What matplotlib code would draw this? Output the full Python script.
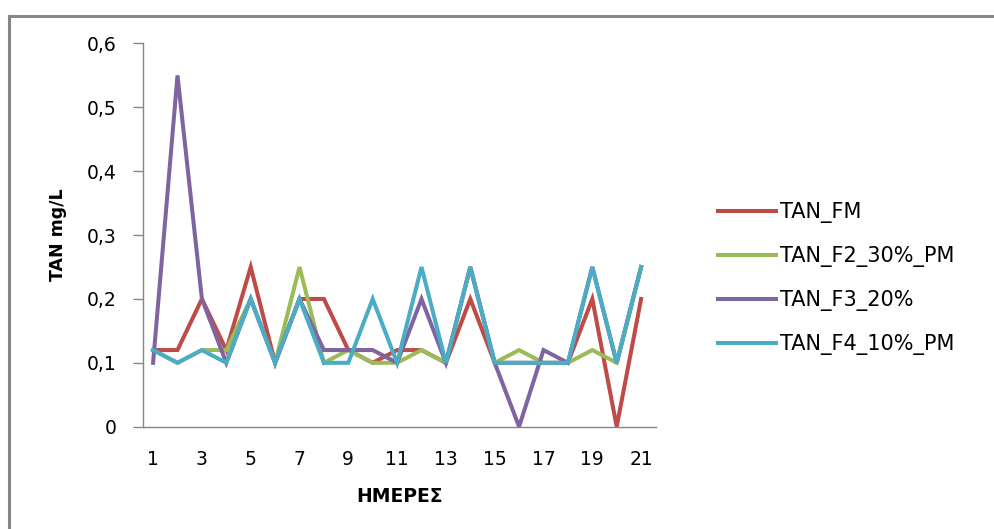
import matplotlib.pyplot as plt
from matplotlib.lines import Line2D
from matplotlib.ticker import FuncFormatter

plt.rcParams['font.family'] = ['DejaVu Sans']

# Daily TAN measurements (mg/L)
days = list(range(1, 22))
tan_fm = [0.12, 0.12, 0.2, 0.12, 0.25, 0.1, 0.2, 0.2, 0.12, 0.1, 0.12,
          0.12, 0.1, 0.2, 0.1, 0.1, 0.1, 0.1, 0.2, 0.0, 0.2]
tan_f2 = [0.12, 0.1, 0.12, 0.12, 0.2, 0.1, 0.25, 0.1, 0.12, 0.1, 0.1,
          0.12, 0.1, 0.25, 0.1, 0.12, 0.1, 0.1, 0.12, 0.1, 0.25]
tan_f3 = [0.1, 0.55, 0.2, 0.1, 0.2, 0.1, 0.2, 0.12, 0.12, 0.12, 0.1,
          0.2, 0.1, 0.25, 0.1, 0.0, 0.12, 0.1, 0.25, 0.1, 0.25]
tan_f4 = [0.12, 0.1, 0.12, 0.1, 0.2, 0.1, 0.2, 0.1, 0.1, 0.2, 0.1,
          0.25, 0.1, 0.25, 0.1, 0.1, 0.1, 0.1, 0.25, 0.1, 0.25]

series = [
    ('TAN_FM', tan_fm, '#BE4B48'),
    ('TAN_F2_30%_PM', tan_f2, '#9BBB59'),
    ('TAN_F3_20%', tan_f3, '#8064A2'),
    ('TAN_F4_10%_PM', tan_f4, '#4BACC6'),
]

fig = plt.figure(figsize=(9.94, 5.29), dpi=100)

# chart area frame (runs off the right and bottom edges)
frame = '#868686'
fig.add_artist(Line2D([9 / 994, 1.01], [1 - 16 / 529] * 2, color=frame, lw=2.2,
                      transform=fig.transFigure))
fig.add_artist(Line2D([9 / 994] * 2, [-0.01, 1 - 16 / 529], color=frame, lw=2.2,
                      transform=fig.transFigure))

ax = fig.add_axes([0.1442, 0.1934, 0.5155, 0.7244])

for name, vals, col in series:
    ax.plot(days, vals, color=col, lw=2.9, label=name, solid_joinstyle='miter')

ax.set_xlim(0.6, 21.6)
ax.set_ylim(0, 0.6)
ax.set_xticks(range(1, 22, 2))
ax.set_yticks([0, 0.1, 0.2, 0.3, 0.4, 0.5, 0.6])
ax.yaxis.set_major_formatter(FuncFormatter(lambda v, p: ('%g' % round(v, 1)).replace('.', ',')))

for s in ['top', 'right']:
    ax.spines[s].set_visible(False)
for s in ['left', 'bottom']:
    ax.spines[s].set_color('#868686')
    ax.spines[s].set_linewidth(1.0)

ax.tick_params(axis='y', direction='out', length=7.5, width=1.0, color='#868686',
               pad=12, labelsize=13.5)
ax.tick_params(axis='x', length=0, pad=17, labelsize=13.5)

ax.set_ylabel('TAN mg/L', fontsize=12.5, fontweight='bold')
ax.yaxis.set_label_coords(-0.149, 0.5)
ax.set_xlabel('ΗΜΕΡΕΣ', fontsize=13.5, fontweight='bold')
ax.xaxis.set_label_coords(0.5, -0.157)

fig.legend(loc='center left', bbox_to_anchor=(0.7223, 0.473), frameon=False,
           fontsize=15, handlelength=2.8, handletextpad=0.2, labelspacing=1.1,
           borderpad=0, borderaxespad=0)

fig.savefig('out.png', dpi=100)
